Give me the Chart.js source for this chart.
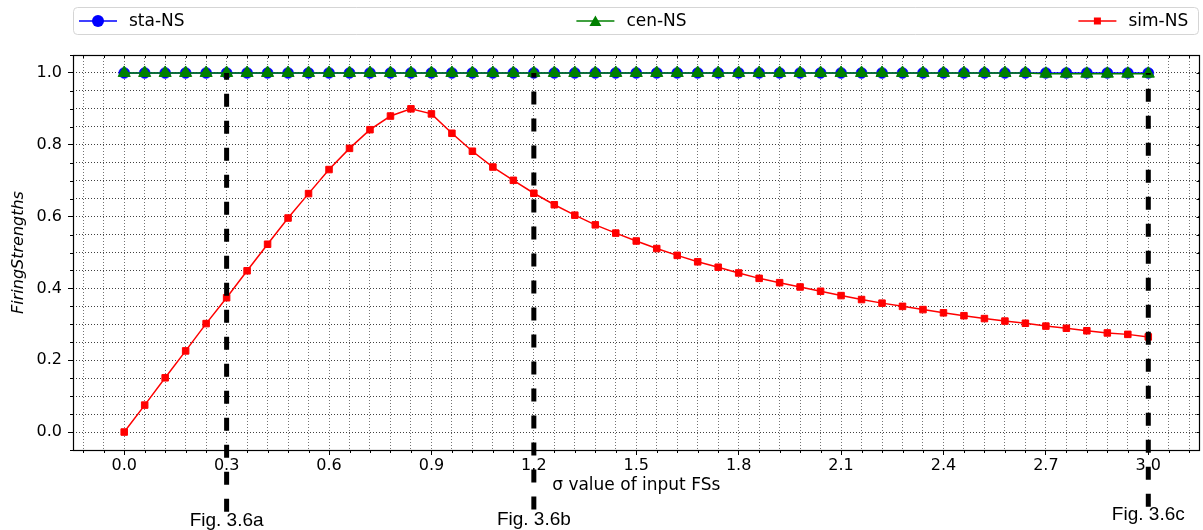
<!DOCTYPE html>
<html><head><meta charset="utf-8">
<script src="https://cdn.jsdelivr.net/npm/chart.js@4.4.1/dist/chart.umd.min.js"></script>
<style>html,body{margin:0;padding:0;background:#fff}canvas{display:block}</style>
</head><body>
<canvas id="c" width="1203" height="530"></canvas>
<script>
// ---- data ----
const sigma = [0.00,0.06,0.12,0.18,0.24,0.30,0.36,0.42,0.48,0.54,0.60,0.66,0.72,0.78,0.84,0.90,0.96,1.02,1.08,1.14,1.20,1.26,1.32,1.38,1.44,1.50,1.56,1.62,1.68,1.74,1.80,1.86,1.92,1.98,2.04,2.10,2.16,2.22,2.28,2.34,2.40,2.46,2.52,2.58,2.64,2.70,2.76,2.82,2.88,2.94,3.00];
const staNS = [1,1,1,1,1,1,1,1,1,1,1,1,1,1,1,1,1,1,1,1,1,1,1,1,1,1,1,1,1,1,1,1,1,1,1,1,1,1,1,1,1,1,1,1,1,1,1,1,1,1,1];
const cenNS = [1,1,1,1,1,1,1,1,1,1,1,1,1,1,1,1,1,1,1,1,1,1,1,1,1,1,1,1,1,1,1,1,1,1,1,1,1,1,1,1,1,1,1,1,1,0.998,0.998,0.998,0.998,0.998,0.998];
const simNS = [0.000,0.075,0.151,0.226,0.302,0.374,0.449,0.523,0.596,0.664,0.731,0.790,0.842,0.880,0.900,0.886,0.832,0.782,0.738,0.701,0.665,0.633,0.604,0.577,0.554,0.532,0.511,0.492,0.474,0.459,0.443,0.428,0.416,0.404,0.392,0.380,0.369,0.359,0.350,0.341,0.332,0.324,0.316,0.309,0.303,0.295,0.289,0.282,0.276,0.272,0.265];
const seriesNames = ['sta-NS','cen-NS','sim-NS'];
const xTickLabels = ['0.0','0.3','0.6','0.9','1.2','1.5','1.8','2.1','2.4','2.7','3.0'];
const yTickLabels = ['0.0','0.2','0.4','0.6','0.8','1.0'];
const xMinorPerMajor = 5;
const yMinorPerMajor = 4;
const figLineX = [0.3, 1.2, 3.0];
const figLineTop = [1.0, 1.0, 1.0];
const figLineBottom = [-0.222, -0.216, -0.208];
const figLabels = ['Fig. 3.6a', 'Fig. 3.6b', 'Fig. 3.6c'];
const figLabelY = [-0.261, -0.258, -0.244];
const xTitle = 'σ value of input FSs';
const yTitle = 'FiringStrengths';

// ---- helpers ----
function buildTicks(labels, perMajor, min, max) {
  const majors = labels.map(parseFloat);
  const step = (majors[1] - majors[0]) / perMajor;
  const ticks = [];
  const k0 = Math.ceil(min / step - 1e-9), k1 = Math.floor(max / step + 1e-9);
  for (let k = k0; k <= k1; k++) {
    const v = Math.round(k * step * 1e6) / 1e6;
    const idx = majors.findIndex(m => Math.abs(m - v) < 1e-6);
    ticks.push({ value: v, major: idx >= 0, label: idx >= 0 ? labels[idx] : '' });
  }
  return ticks;
}
const X_MIN = -0.15, X_MAX = 3.15, Y_MIN = -0.05, Y_MAX = 1.05;
const xTicks = buildTicks(xTickLabels, xMinorPerMajor, X_MIN, X_MAX);
const yTicks = buildTicks(yTickLabels, yMinorPerMajor, Y_MIN, Y_MAX);

const pts = arr => sigma.map((x, i) => ({ x: x, y: arr[i] }));

const colors = ['#0000ff', '#008000', '#ff0000'];
const styles = ['circle', 'triangle', 'rect'];
const radii = [5.5, 7, 4.6];
const pbw = [0.5, 1, 1];

const datasets = [];
figLineX.forEach((x, i) => {
  datasets.push({
    label: figLabels[i],
    data: [{ x: x, y: figLineBottom[i] }, { x: x, y: figLineTop[i] }],
    borderColor: '#000', borderWidth: 5, borderDash: [13, 14], borderCapStyle: 'butt',
    pointRadius: 0, clip: false, order: 0
  });
});
[staNS, cenNS, simNS].forEach((arr, i) => {
  datasets.push({
    label: seriesNames[i],
    data: pts(arr),
    borderColor: colors[i], backgroundColor: colors[i],
    pointBackgroundColor: colors[i], pointBorderColor: colors[i],
    pointStyle: styles[i], pointRadius: radii[i], pointBorderWidth: pbw[i],
    borderWidth: 1.5, tension: 0, order: 3 - i
  });
});

const FONT = 'DejaVu Sans';

const decoPlugin = {
  id: 'deco',
  afterDatasetsDraw(chart) {
    const ctx = chart.ctx, a = chart.chartArea;
    const xs = chart.scales.x, ys = chart.scales.y;
    ctx.save();
    ctx.strokeStyle = '#000';
    ctx.lineWidth = 1;
    ctx.beginPath();
    xTicks.forEach(t => {
      const px = Math.round(xs.getPixelForValue(t.value)) + 0.5;
      if (!t.major) { ctx.moveTo(px, a.bottom); ctx.lineTo(px, a.bottom + 3); }
      ctx.moveTo(px, a.top); ctx.lineTo(px, a.top + 3);
    });
    yTicks.forEach(t => {
      const py = Math.round(ys.getPixelForValue(t.value)) + 0.5;
      if (!t.major) { ctx.moveTo(a.left, py); ctx.lineTo(a.left - 3, py); }
      ctx.moveTo(a.right, py); ctx.lineTo(a.right - 3, py);
    });
    ctx.stroke();
    ctx.lineWidth = 1.2;
    ctx.strokeRect(Math.round(a.left) + 0.5, Math.round(a.top) + 0.5, Math.round(a.right - a.left) - 1, Math.round(a.bottom - a.top));
    ctx.restore();
  },
  afterDraw(chart) {
    const ctx = chart.ctx, a = chart.chartArea;
    const xs = chart.scales.x, ys = chart.scales.y;
    ctx.save();
    ctx.fillStyle = '#000';
    ctx.font = '19px "Liberation Sans", Arial, sans-serif';
    ctx.textAlign = 'center';
    ctx.textBaseline = 'alphabetic';
    figLabels.forEach((lab, i) => {
      ctx.fillText(lab, xs.getPixelForValue(figLineX[i]), ys.getPixelForValue(figLabelY[i]));
    });
    // legend (expanded across axes width)
    const bx = a.left + 0.5, by = 7.5, bw = a.right - a.left - 1.5, bh = 27;
    ctx.beginPath();
    const r = 4;
    ctx.moveTo(bx + r, by); ctx.lineTo(bx + bw - r, by); ctx.quadraticCurveTo(bx + bw, by, bx + bw, by + r);
    ctx.lineTo(bx + bw, by + bh - r); ctx.quadraticCurveTo(bx + bw, by + bh, bx + bw - r, by + bh);
    ctx.lineTo(bx + r, by + bh); ctx.quadraticCurveTo(bx, by + bh, bx, by + bh - r);
    ctx.lineTo(bx, by + r); ctx.quadraticCurveTo(bx, by, bx + r, by);
    ctx.closePath();
    ctx.fillStyle = 'rgba(255,255,255,0.8)'; ctx.fill();
    ctx.strokeStyle = '#d5d5d5'; ctx.lineWidth = 1; ctx.stroke();
    const offs = [25, 522.4, 1024.4];
    const cy = by + bh / 2;
    ctx.font = '17px "' + FONT + '"';
    ctx.textAlign = 'left'; ctx.textBaseline = 'middle';
    seriesNames.forEach((name, i) => {
      const mx = a.left + offs[i];
      ctx.strokeStyle = colors[i]; ctx.lineWidth = 1.5;
      ctx.beginPath(); ctx.moveTo(mx - 19, cy); ctx.lineTo(mx + 19, cy); ctx.stroke();
      ctx.fillStyle = colors[i];
      ctx.beginPath();
      if (styles[i] === 'circle') { ctx.arc(mx, cy, 6, 0, Math.PI * 2); }
      else if (styles[i] === 'triangle') { ctx.moveTo(mx, cy - 5.5); ctx.lineTo(mx + 6, cy + 5); ctx.lineTo(mx - 6, cy + 5); ctx.closePath(); }
      else { ctx.rect(mx - 3.5, cy - 3.5, 7, 7); }
      ctx.fill();
      ctx.fillStyle = '#000';
      ctx.fillText(name, mx + 31, cy + 0.5);
    });
    ctx.restore();
  }
};

new Chart(document.getElementById('c'), {
  type: 'line',
  data: { datasets: datasets },
  options: {
    responsive: false, animation: false, devicePixelRatio: 1,
    layout: { autoPadding: false, padding: { top: 55, right: 3.5, bottom: 0, left: 0 } },
    plugins: { legend: { display: false }, tooltip: { enabled: false } },
    scales: {
      x: {
        type: 'linear', min: X_MIN, max: X_MAX,
        afterBuildTicks: s => { s.ticks = xTicks.map(t => ({ value: t.value, label: t.label })); },
        afterFit: s => { s.height = 80; s.paddingLeft = 0; s.paddingRight = 0; },
        ticks: { autoSkip: false, maxRotation: 0, padding: 1.5, color: '#000', font: { family: FONT, size: 16 },
          callback: (v, i) => xTicks[i] ? xTicks[i].label : '' },
        grid: { color: 'rgba(0,0,0,0.55)', lineWidth: 1, tickLength: 5, tickBorderDash: [],
          tickColor: c => (c.tick && xTicks[c.index] && xTicks[c.index].major) ? '#000' : 'rgba(0,0,0,0)' },
        border: { display: false, dash: [1, 2] },
        title: { display: true, text: xTitle, color: '#000', font: { family: FONT, size: 17 }, padding: { top: 0, bottom: 34 } }
      },
      y: {
        type: 'linear', min: Y_MIN, max: Y_MAX,
        afterBuildTicks: s => { s.ticks = yTicks.map(t => ({ value: t.value, label: t.label })); },
        afterFit: s => { s.width = 73; s.paddingTop = 0; s.paddingBottom = 0; },
        ticks: { autoSkip: false, padding: 6, color: '#000', font: { family: FONT, size: 16 },
          callback: (v, i) => yTicks[i] ? yTicks[i].label : '' },
        grid: { color: 'rgba(0,0,0,0.75)', lineWidth: 1, tickLength: 5, tickBorderDash: [],
          tickColor: c => (c.tick && yTicks[c.index] && yTicks[c.index].major) ? '#000' : 'rgba(0,0,0,0)' },
        border: { display: false, dash: [1, 2] },
        title: { display: true, text: yTitle, color: '#000', font: { family: FONT, size: 16, style: 'italic' }, padding: { top: 9, bottom: 0 } }
      }
    }
  },
  plugins: [decoPlugin]
});
</script>
</body></html>
